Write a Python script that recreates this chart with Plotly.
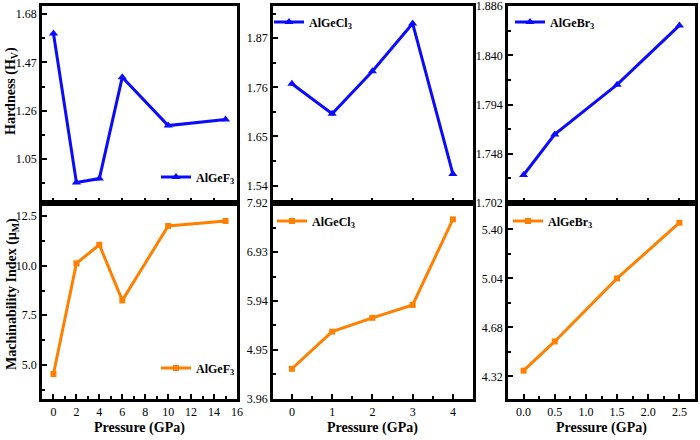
import plotly.graph_objects as go

# ---- data ----
p_F = [0, 2, 4, 6, 10, 15]
hard_F = [1.596, 0.949, 0.966, 1.406, 1.196, 1.222]
mach_F = [4.53, 10.12, 11.06, 8.25, 12.01, 12.26]

p_Cl = [0, 1, 2, 3, 4]
hard_Cl = [1.768, 1.701, 1.796, 1.903, 1.566]
mach_Cl = [4.57, 5.32, 5.60, 5.86, 7.59]

p_Br = [0.0, 0.5, 1.5, 2.5]
hard_Br = [1.728, 1.766, 1.8126, 1.868]
mach_Br = [4.362, 4.577, 5.04, 5.449]

names = ["AlGeF<sub>3</sub>", "AlGeCl<sub>3</sub>", "AlGeBr<sub>3</sub>"]

yticks_TL = [1.05, 1.26, 1.47, 1.68]
yticks_TM = [1.54, 1.65, 1.76, 1.87]
yticks_TR = [1.702, 1.748, 1.794, 1.840, 1.886]
yticks_BL = [5.0, 7.5, 10.0, 12.5]
yticks_BM = [3.96, 4.95, 5.94, 6.93, 7.92]
yticks_BR = [4.32, 4.68, 5.04, 5.40]

BLUE = "#0a0aff"
ORANGE = "#ff8000"
FONT = "Liberation Serif"
W, H = 700, 440

def px_x(v):
    return v / W

def px_y(v):
    return 1 - v / H

xdom = [(42, 237), (273, 473), (508, 695)]
ydom_top = (6, 203)
ydom_bot = (203, 399)

fig = go.Figure()

panels = [
    (p_F, hard_F, BLUE, "triangle-up", names[0], [-1, 16], 2, 1, [0.86, 1.715], yticks_TL, ".2f", 0, 0, (156, 177)),
    (p_Cl, hard_Cl, BLUE, "triangle-up", names[1], [-0.47, 4.5], 1, 0.5, [1.501, 1.942], yticks_TM, ".2f", 0, 1, (269, 22)),
    (p_Br, hard_Br, BLUE, "triangle-up", names[2], [-0.25, 2.75], 0.5, 0.25, [1.7018, 1.8862], yticks_TR, ".3f", 0, 2, (510, 22)),
    (p_F, mach_F, ORANGE, "square", names[0], [-1, 16], 2, 1, [3.27, 13.17], yticks_BL, ".1f", 1, 0, (156, 368)),
    (p_Cl, mach_Cl, ORANGE, "square", names[1], [-0.47, 4.5], 1, 0.5, [3.959, 7.921], yticks_BM, ".2f", 1, 1, (272, 221)),
    (p_Br, mach_Br, ORANGE, "square", names[2], [-0.25, 2.75], 0.5, 0.25, [4.154, 5.594], yticks_BR, ".2f", 1, 2, (508, 221)),
]

layout = dict(
    width=W, height=H,
    margin=dict(l=0, r=0, t=0, b=0, autoexpand=False),
    paper_bgcolor="white", plot_bgcolor="white",
    showlegend=True,
    font=dict(family=FONT, size=12, color="black"),
)

for i, (xs, ys, col, sym, nm, xr, xdt, xmin, yr, yt, yfmt, row, c, lpos) in enumerate(panels):
    k = i + 1
    xa = "xaxis" if k == 1 else f"xaxis{k}"
    ya = "yaxis" if k == 1 else f"yaxis{k}"
    lg = "legend" if k == 1 else f"legend{k}"
    fig.add_trace(go.Scatter(
        x=xs, y=ys, mode="lines+markers", name=f"<b>{nm}</b>",
        line=dict(color=col, width=3),
        marker=dict(symbol=sym, size=8 if sym == "triangle-up" else 6, color=col),
        xaxis="x" if k == 1 else f"x{k}", yaxis="y" if k == 1 else f"y{k}",
        legend=lg,
    ))
    yd = ydom_top if row == 0 else ydom_bot
    layout[xa] = dict(
        domain=[px_x(xdom[c][0]), px_x(xdom[c][1])],
        anchor="y" if k == 1 else f"y{k}",
        range=xr, dtick=xdt, tick0=0,
        tickformat=".1f" if c == 2 else "d",
        showticklabels=(row == 1),
        ticks="inside", ticklen=5, tickwidth=2, tickcolor="black",
        minor=dict(ticks="inside", ticklen=3, tickwidth=1.5, dtick=xmin, tick0=0, tickcolor="black"),
        showline=True, linewidth=2.5, linecolor="black", mirror=True,
        showgrid=False, zeroline=False, automargin=False,
        ticklabeloverflow="allow",
        tickfont=dict(family=FONT, size=12, color="black"),
    )
    step = yt[1] - yt[0]
    layout[ya] = dict(
        domain=[px_y(yd[1]), px_y(yd[0])],
        anchor="x" if k == 1 else f"x{k}",
        range=yr, tickmode="array", tickvals=yt, tickformat=yfmt,
        ticks="inside", ticklen=5, tickwidth=2, tickcolor="black",
        minor=dict(ticks="inside", ticklen=3, tickwidth=1.5, tickmode="array",
                   tickvals=[v + step / 2 for v in [yt[0] - step] + yt], tickcolor="black"),
        showline=True, linewidth=2.5, linecolor="black", mirror=True,
        showgrid=False, zeroline=False, automargin=False,
        ticklabeloverflow="allow",
        tickfont=dict(family=FONT, size=12, color="black"),
    )
    layout[lg] = dict(
        x=px_x(lpos[0]), y=px_y(lpos[1]), xanchor="left", yanchor="middle",
        bgcolor="rgba(0,0,0,0)", borderwidth=0,
        font=dict(family=FONT, size=12, color="black"),
        itemclick=False,
    )

fig.update_layout(**layout)

annotations = [
    dict(text="<b>Hardness (H<sub>V</sub>)</b>", x=px_x(12), y=px_y(91), textangle=-90),
    dict(text="<b>Machinability Index (μ<sub>M</sub>)</b>", x=px_x(12), y=px_y(294), textangle=-90),
]
for c in range(3):
    annotations.append(dict(text="<b>Pressure (GPa)</b>", x=px_x((xdom[c][0] + xdom[c][1]) / 2), y=px_y(428)))
for a in annotations:
    a.update(xref="paper", yref="paper", showarrow=False, xanchor="center", yanchor="middle",
             font=dict(family=FONT, size=14, color="black"))
fig.update_layout(annotations=annotations)

fig.write_html("out.html", config={"displayModeBar": False},
               post_script="document.body.style.margin='0';document.body.style.overflow='hidden';")
